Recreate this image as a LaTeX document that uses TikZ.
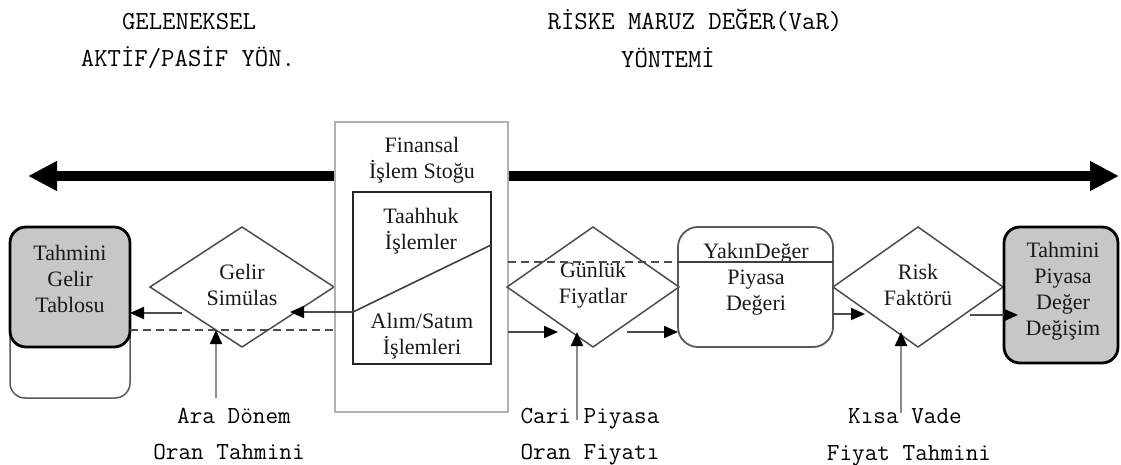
\documentclass[tikz,border=0pt]{standalone}
\usepackage{fontspec}
\setmainfont{Liberation Serif}
\usetikzlibrary{shapes.geometric,arrows.meta}

\begin{document}
\begin{tikzpicture}[x=1pt,y=-1pt,
  every node/.style={outer sep=0pt},
  boxtext/.style={font=\fontsize{22}{26}\selectfont, align=center, text=black!90, inner sep=0pt},
  headtext/.style={font=\ttfamily\fontsize{26}{26}\selectfont, text=black, inner sep=0pt, anchor=base},
  foottext/.style={font=\ttfamily\fontsize{24.5}{24.5}\selectfont, text=black, inner sep=0pt, anchor=base},
  resultbox/.style={draw=black, line width=2.8pt, fill=black!22, rounded corners=16pt, inner sep=0pt},
  backbox/.style={draw=black!65, line width=1.5pt, rounded corners=15pt, inner sep=0pt},
  valuebox/.style={draw=black!65, line width=1.8pt, rounded corners=20pt, inner sep=0pt},
  decision/.style={diamond, aspect=1.5, draw=black!70, line width=1.5pt, inner sep=0pt,
                   minimum width=184pt, minimum height=120pt},
  stockbox/.style={draw=black!30, line width=2.5pt, fill=white, inner sep=0pt},
  innerbox/.style={draw=black!85, line width=1.6pt, inner sep=0pt},
  tip/.style={-{Triangle[length=14pt,width=12pt,color=black]}},
  flow/.style={draw=black!70, line width=2pt, tip},
  feed/.style={draw=black!45, line width=2pt, tip},
  link/.style={draw=black!70, line width=2pt, dash pattern=on 8pt off 5pt},
  plain/.style={draw=black!75, line width=1.6pt},
  spectrum/.style={draw=black, line width=10pt,
    {Triangle[length=29pt,width=28pt]}-{Triangle[length=29pt,width=28pt]}},
]
\useasboundingbox (0,0) rectangle (1121,465);

% headings
\node[headtext] (h1a) at (189,30) {GELENEKSEL};
\node[headtext] (h1b) at (188,67) {AKTİF/PASİF YÖN.};
\node[headtext] (h2a) at (695,30) {RİSKE MARUZ DEĞER(VaR)};
\node[headtext] (h2b) at (668,68) {YÖNTEMİ};

% two-headed scale arrow
\coordinate (sl) at (28,176);
\coordinate (sr) at (1119,176);
\draw[spectrum] (sl) -- (sr);

% left: income table
\node[backbox, minimum width=120pt, minimum height=171pt] (tgback) at (70,312.5) {};
\node[resultbox, minimum width=120pt, minimum height=120pt] (tg) at (70,287) {};
\node[boxtext] (tgt) at (70,279) {Tahmini\\Gelir\\Tablosu};

% income simulation
\node[decision] (gs) at (242,287) {};
\node[boxtext] (gst) at (242,285) {Gelir\\Simülas};

% stock of financial transactions
\node[stockbox, minimum width=173pt, minimum height=290pt] (fs) at (421.5,267) {};
\node[boxtext] (fst) at (422,160) {Finansal\\İşlem Stoğu};
\node[innerbox, minimum width=138pt, minimum height=172pt] (ib) at (422,278) {};
\node[boxtext] (tk) at (421,231) {Taahhuk\\İşlemler};
\node[boxtext] (as) at (422,336) {Alım/Satım\\İşlemleri};
\coordinate (dl) at (353,312);
\coordinate (dr) at (491,245);
\draw[plain] (dl) -- (dr);

% daily prices
\node[decision, minimum width=172pt] (gf) at (593,287) {};
\node[boxtext] (gft) at (593,285) {Günlük\\Fiyatlar};

% fair market value
\node[valuebox, minimum width=155pt, minimum height=120pt] (yd) at (755.5,287) {};
\node[boxtext] (ydt) at (756,279) {YakınDeğer\\Piyasa\\Değeri};

% risk factor
\node[decision, minimum width=170pt] (rf) at (918,287) {};
\node[boxtext] (rft) at (918,285) {Risk\\Faktörü};

% right: market value change
\node[resultbox, minimum width=114pt, minimum height=136pt] (tp) at (1061,295) {};
\node[boxtext] (tpt) at (1063,291) {Tahmini\\Piyasa\\Değer\\Değişim};

% dashed links
\draw[link] (tg.east |- 0,330) -- (fs.west |- 0,330);
\draw[link] (fs.east |- 0,262) -- (yd.west |- 0,262);
\draw[plain] (yd.west |- 0,262) -- (yd.east |- 0,262);

% flow arrows
\coordinate (gsin) at (290,312);
\coordinate (gsout) at (182,313);
\draw[flow] (dl) -- (gsin);
\draw[flow] (gsout) -- (tg.east |- 0,313);
\coordinate (gfin) at (558,332);
\coordinate (gfout) at (627,332);
\draw[flow] (fs.east |- 0,332) -- (gfin);
\draw[flow] (gfout) -- (yd.west |- 0,332);
\coordinate (rfin) at (865,314);
\coordinate (rfout) at (970,315);
\coordinate (tpin) at (1018,315);
\draw[flow] (yd.east |- 0,314) -- (rfin);
\draw[flow] (rfout) -- (tpin);

% input labels
\node[foottext] (l1a) at (234,423) {Ara Dönem};
\node[foottext] (l1b) at (229,459) {Oran Tahmini};
\node[foottext] (l2a) at (590,423) {Cari Piyasa};
\node[foottext] (l2b) at (590,459) {Oran Fiyatı};
\node[foottext] (l3a) at (905,423) {Kısa Vade};
\node[foottext] (l3b) at (909,460) {Fiyat Tahmini};

% input arrows
\coordinate (a1) at (216,398);
\coordinate (a1t) at (216,330);
\coordinate (a2) at (577,420);
\coordinate (a2t) at (577,332);
\coordinate (a3) at (901,413);
\coordinate (a3t) at (901,332);
\draw[feed] (a1) -- (a1t);
\draw[feed] (a2) -- (a2t);
\draw[feed] (a3) -- (a3t);
\end{tikzpicture}
\end{document}
